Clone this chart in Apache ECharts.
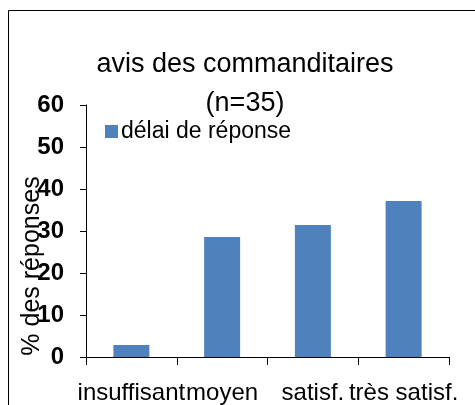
<!DOCTYPE html>
<html>
<head>
<meta charset="utf-8">
<script src="https://cdn.jsdelivr.net/npm/echarts@6/dist/echarts.min.js"></script>
<style>
  html, body { margin: 0; padding: 0; background: #fff; }
  #chart { width: 475px; height: 405px; }
</style>
</head>
<body>
<div id="chart"></div>
<script>
const categories = ['insuffisant', 'moyen', 'satisf.', 'très satisf.']
const delaiReponse = [2.86, 28.57, 31.43, 37.14]
const yTicks = [0, 10, 20, 30, 40, 50, 60]

const font = '"Liberation Sans", Arial, sans-serif'
const chart = echarts.init(document.getElementById('chart'))

chart.setOption({
  animation: false,
  textStyle: { fontFamily: font },
  graphic: [
    {
      type: 'polyline',
      shape: { points: [[8.5, 405], [8.5, 10.5], [475, 10.5]] },
      style: { stroke: '#000', lineWidth: 1, fill: null },
    },
    {
      // y axis title sits lower than the axis middle in the original
      type: 'text',
      x: 32,
      y: 266,
      rotation: Math.PI / 2,
      style: {
        text: '% des réponses',
        font: '25px ' + font,
        fill: '#000',
        align: 'center',
        verticalAlign: 'middle',
      },
    },
  ],
  title: {
    text: 'avis des commanditaires\n(n=35)',
    left: 240,
    textAlign: 'center',
    top: 40,
    textStyle: { fontFamily: font, fontSize: 27, fontWeight: 'normal', color: '#000', lineHeight: 39 },
  },
  legend: {
    left: 100,
    top: 115,
    itemWidth: 13,
    itemHeight: 13,
    itemGap: 4,
    icon: 'rect',
    textStyle: { fontFamily: font, fontSize: 23, color: '#000', padding: [0, 0, 0, -2] },
    data: ['délai de réponse'],
  },
  grid: { left: 86, right: 26, top: 105, bottom: 48, containLabel: false },
  xAxis: {
    type: 'category',
    data: categories,
    axisLine: { lineStyle: { color: '#000', width: 1 } },
    axisTick: { show: true, length: 8, lineStyle: { color: '#000' } },
    axisLabel: { color: '#000', fontSize: 24, margin: 24, interval: 0, fontFamily: font },
  },
  yAxis: {
    type: 'value',
    min: yTicks[0],
    max: yTicks[yTicks.length - 1],
    interval: 10,
    axisLine: { show: true, lineStyle: { color: '#000', width: 1 } },
    axisTick: { show: true, length: 6, lineStyle: { color: '#000' } },
    axisLabel: { color: '#000', fontSize: 24, fontWeight: 'bold', margin: 22, fontFamily: font },
    splitLine: { show: false },
  },
  series: [
    {
      name: 'délai de réponse',
      type: 'bar',
      data: delaiReponse,
      barWidth: 36,
      itemStyle: { color: '#4F81BD' },
    },
  ],
})
</script>
</body>
</html>
